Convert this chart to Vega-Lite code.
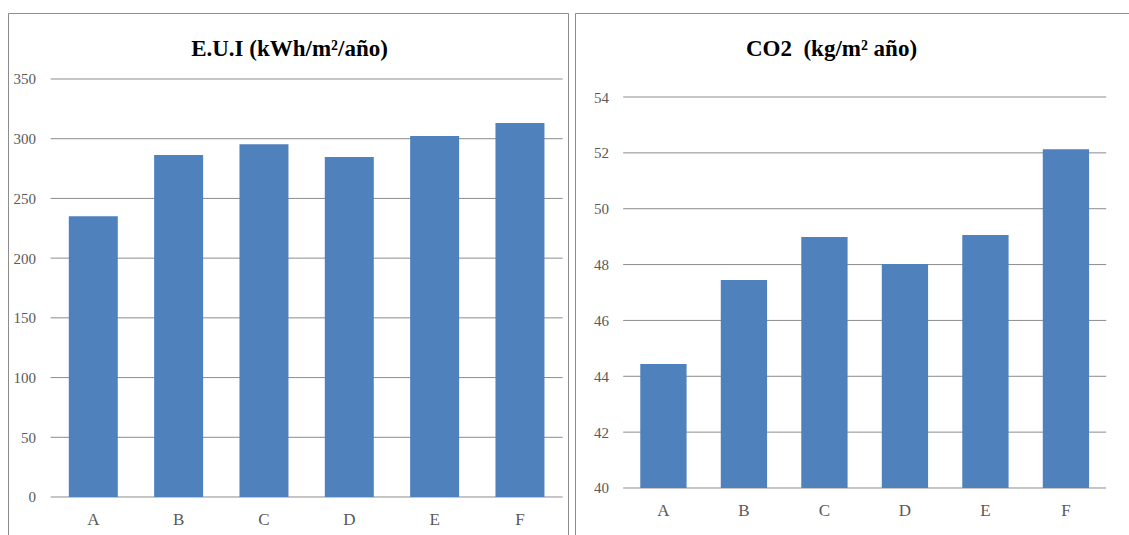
{
  "$schema": "https://vega.github.io/schema/vega-lite/v6.json",
  "padding": {"left": 7, "top": 12, "right": 0, "bottom": 0},
  "spacing": 5,
  "config": {
    "view": {"stroke": "#8c8c8c", "strokeWidth": 1},
    "font": "Liberation Serif, Times New Roman, serif",
    "axis": {"labelFont": "Liberation Serif, Times New Roman, serif", "labelColor": "#595959", "title": null, "grid": false, "ticks": false, "domain": false},
    "title": {"font": "Liberation Serif, Times New Roman, serif"}
  },
  "hconcat": [
    {
      "width": 560,
      "height": 533,
      "title": {"text": "E.U.I (kWh/m²/año)", "fontSize": 23, "fontWeight": "bold", "font": "Liberation Serif, Times New Roman, serif", "color": "#000000", "anchor": "middle", "frame": "group", "offset": -66, "baseline": "alphabetic", "dx": 1.5},
      "layer": [
        {
          "data": {"values": [{"v": 0}, {"v": 50}, {"v": 100}, {"v": 150}, {"v": 200}, {"v": 250}, {"v": 300}, {"v": 350}]},
          "mark": {"type": "rule", "color": "#8c8c8c", "strokeWidth": 1, "xOffset": -42.67, "x2Offset": 42.67},
          "encoding": {
            "x": {"datum": "A", "type": "nominal", "scale": {"paddingInner": 0.4258, "paddingOuter": 0.4942, "align": 0.7209},
                  "axis": {"labelAngle": 0, "labelFontSize": 17, "labelPadding": 14, "offset": -49}},
            "x2": {"datum": "F"},
            "y": {"field": "v", "type": "quantitative", "scale": {"domain": [-41.03, 405.26], "nice": false, "zero": false},
                  "axis": {"values": [0, 50, 100, 150, 200, 250, 300, 350], "labelPadding": 15, "labelFontSize": 15, "offset": -42.5}}
          }
        },
        {
          "data": {"values": [
            {"caso": "A", "eui": 235.0},
            {"caso": "B", "eui": 286.4},
            {"caso": "C", "eui": 295.3},
            {"caso": "D", "eui": 284.7},
            {"caso": "E", "eui": 302.3},
            {"caso": "F", "eui": 313.2}
          ]},
          "mark": {"type": "bar", "color": "#4f81bd"},
          "encoding": {
            "x": {"field": "caso", "type": "nominal",
                  "axis": {"labelAngle": 0, "labelFontSize": 17, "labelPadding": 14, "offset": -49}},
            "y": {"field": "eui", "type": "quantitative",
                  "axis": {"values": [0, 50, 100, 150, 200, 250, 300, 350], "labelPadding": 15, "labelFontSize": 15, "offset": -42.5}},
            "y2": {"datum": 0}
          }
        }
      ]
    },
    {
      "width": 566,
      "height": 533,
      "title": {"text": "CO2\u00a0 (kg/m² año)", "fontSize": 23, "fontWeight": "bold", "font": "Liberation Serif, Times New Roman, serif", "color": "#000000", "anchor": "middle", "frame": "group", "offset": -66, "baseline": "alphabetic", "dx": -26.5},
      "layer": [
        {
          "data": {"values": [{"v": 40}, {"v": 42}, {"v": 44}, {"v": 46}, {"v": 48}, {"v": 50}, {"v": 52}, {"v": 54}]},
          "mark": {"type": "rule", "color": "#8c8c8c", "strokeWidth": 1, "xOffset": -40.25, "x2Offset": 40.25},
          "encoding": {
            "x": {"datum": "A", "type": "nominal", "scale": {"paddingInner": 0.4248, "paddingOuter": 0.7279, "align": 0.557},
                  "axis": {"labelAngle": 0, "labelFontSize": 17, "labelPadding": 14, "offset": -58}},
            "x2": {"datum": "F"},
            "y": {"field": "v", "type": "quantitative", "scale": {"domain": [37.923, 57.008], "nice": false, "zero": false},
                  "axis": {"values": [40, 42, 44, 46, 48, 50, 52, 54], "labelPadding": 14, "labelFontSize": 15, "offset": -47.5}}
          }
        },
        {
          "data": {"values": [
            {"caso": "A", "co2": 44.44},
            {"caso": "B", "co2": 47.45},
            {"caso": "C", "co2": 48.99},
            {"caso": "D", "co2": 48.02},
            {"caso": "E", "co2": 49.06},
            {"caso": "F", "co2": 52.13}
          ]},
          "mark": {"type": "bar", "color": "#4f81bd"},
          "encoding": {
            "x": {"field": "caso", "type": "nominal",
                  "axis": {"labelAngle": 0, "labelFontSize": 17, "labelPadding": 14, "offset": -58}},
            "y": {"field": "co2", "type": "quantitative",
                  "axis": {"values": [40, 42, 44, 46, 48, 50, 52, 54], "labelPadding": 14, "labelFontSize": 15, "offset": -47.5}},
            "y2": {"datum": 40}
          }
        }
      ]
    }
  ]
}
